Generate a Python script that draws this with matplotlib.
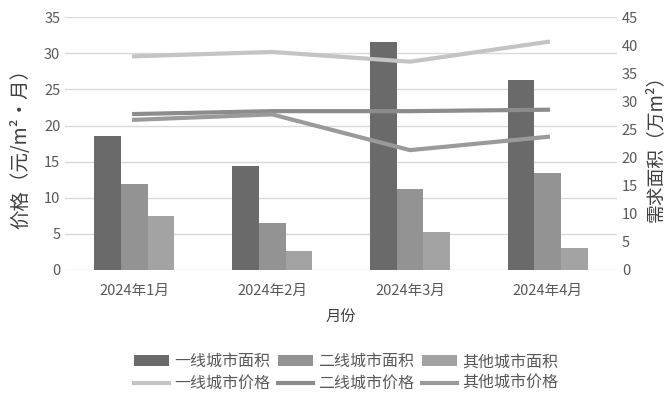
import numpy as np
import matplotlib
matplotlib.use('Agg')
import matplotlib.pyplot as plt

plt.rcParams['font.family'] = ['Noto Sans CJK SC', 'DejaVu Sans']

months = ['2024年1月', '2024年2月', '2024年3月', '2024年4月']

# 需求面积（万m²）, right axis
area_tier1 = [23.8, 18.5, 40.6, 33.8]
area_tier2 = [15.4, 8.4, 14.4, 17.3]
area_other = [9.6, 3.4, 6.7, 4.0]

# 价格（元/m²·月）, left axis
price_tier1 = [29.6, 30.2, 28.85, 31.6]
price_tier2 = [21.6, 22.0, 22.0, 22.2]
price_other = [20.8, 21.55, 16.6, 18.45]

tick_color = '#595959'

fig = plt.figure(figsize=(6.72, 3.93), dpi=100)
ax = fig.add_axes([0.097, 0.313, 0.821, 0.643])
ax2 = ax.twinx()
ax3 = ax.twinx()

x = np.arange(len(months))
w = 0.195

# grid + left axis
ax.set_ylim(0, 35)
ax.set_yticks(np.arange(0, 36, 5))
ax.set_xlim(-0.5, 3.5)
ax.grid(axis='y', color='#d9d9d9', lw=1)
ax.set_axisbelow(True)
ax.set_xticks(x)
ax.set_xticklabels(months)
ax.set_xlabel('月份', fontsize=11, color='#404040', labelpad=8)
ax.set_ylabel('价格（元/m²·月）', fontsize=14, color='#404040', labelpad=9)

# bars on right axis
b1 = ax2.bar(x - w, area_tier1, w, color='#6a6a6a', label='一线城市面积')
b2 = ax2.bar(x, area_tier2, w, color='#939393', label='二线城市面积')
b3 = ax2.bar(x + w, area_other, w, color='#a3a3a3', label='其他城市面积')
ax2.set_ylim(0, 45)
ax2.set_yticks(np.arange(0, 46, 5))
ax2.set_ylabel('需求面积（万m²）', fontsize=13.5, color='#404040', labelpad=5)

# lines on top, sharing left scale
l1, = ax3.plot(x, price_tier1, color='#c4c4c4', lw=3, label='一线城市价格')
l2, = ax3.plot(x, price_tier2, color='#8c8c8c', lw=3, label='二线城市价格')
l3, = ax3.plot(x, price_other, color='#9a9a9a', lw=3, label='其他城市价格')
ax3.set_ylim(0, 35)
ax3.set_yticks([])

for a in (ax, ax2, ax3):
    for s in a.spines.values():
        s.set_visible(False)
    a.tick_params(length=0, labelsize=10.5, colors=tick_color)
ax.tick_params(axis='x', pad=10)

handles = [b1, l1, b2, l2, b3, l3]
fig.legend(handles, [h.get_label() for h in handles], ncol=3,
           loc='center', bbox_to_anchor=(0.515, 0.052), frameon=False,
           fontsize=11.5, labelcolor=tick_color, handlelength=2.2,
           handleheight=0.6, handletextpad=0.35, columnspacing=0.45,
           labelspacing=0.3)

fig.savefig('out.png', dpi=100)
